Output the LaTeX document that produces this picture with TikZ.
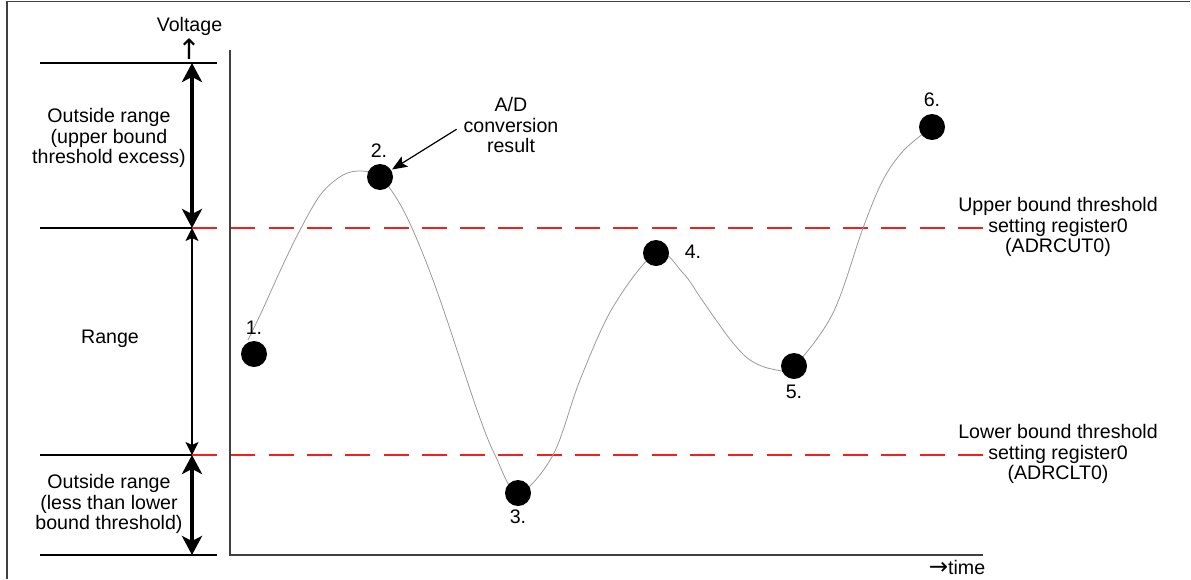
\documentclass[tikz,border=0pt]{standalone}
\usepackage{fontspec}
\setmainfont{Liberation Sans}
\newfontfamily\arrfont{DejaVu Sans}
\usetikzlibrary{arrows.meta}
\definecolor{thr}{HTML}{F02020}
\definecolor{curvegray}{HTML}{9A9A9A}
\definecolor{frame}{HTML}{404040}
\tikzset{
  txt/.style={font=\fontsize{19.6}{20.3}\selectfont, inner sep=0pt, align=center},
  dot/.style={circle, fill=black, minimum size=26pt, inner sep=0pt},
  guide/.style={line width=1.3pt, black},
  axisline/.style={line width=1.5pt, frame},
  thickarrow/.style={line width=4pt, {Stealth[length=19pt,width=20pt,inset=5pt]}-{Stealth[length=19pt,width=20pt,inset=5pt]}},
  thinarrow/.style={line width=1.2pt, {Stealth[length=13pt,width=13pt,inset=3pt]}-{Stealth[length=13pt,width=13pt,inset=3pt]}},
  ptr/.style={line width=1.2pt, -{Stealth[length=15pt,width=12pt,inset=3pt]}},
  thrline/.style={line width=1.4pt, thr, dash pattern=on 25pt off 13.3pt},
  curveline/.style={line width=0.8pt, curvegray},
  borderline/.style={line width=1.5pt, frame}
}
\begin{document}
\begin{tikzpicture}[x=1pt,y=-1pt]
\useasboundingbox (0,0) rectangle (1191,579);
% frame
\coordinate (fb) at (7,579);
\coordinate (ftl) at (7,1.5);
\coordinate (ftr) at (1190,1.5);
\draw[borderline] (fb) -- (ftl) -- (ftr);

% left guide lines
\coordinate (g1l) at (40,63);  \coordinate (g1r) at (217,63);
\coordinate (g2l) at (40,228); \coordinate (g2r) at (217,228);
\coordinate (g3l) at (40,455); \coordinate (g3r) at (217,455);
\coordinate (g4l) at (40,555); \coordinate (g4r) at (217,555);
\draw[guide] (g1l) -- (g1r);
\draw[guide] (g2l) -- (g2r);
\draw[guide] (g3l) -- (g3r);
\draw[guide] (g4l) -- (g4r);

% arrows on the left
\coordinate (a1) at (192,63);
\coordinate (a2) at (192,228);
\coordinate (a3) at (192,455);
\coordinate (a4) at (192,555);
\draw[thickarrow] (a1) -- (a2);
\draw[thinarrow] (a2) -- (a3);
\draw[thickarrow] (a3) -- (a4);

% threshold lines
\coordinate (ue) at (983,228);
\coordinate (le) at (983,455);
\draw[thrline] (a2) -- (ue);
\draw[thrline] (a3) -- (le);

% axes
\coordinate (yt) at (230,50);
\coordinate (org) at (230,555);
\coordinate (xe) at (983,555);
\draw[axisline] (yt) -- (org) -- (xe);

% axis texts
\node[txt] (volt) at (189.5,26) {Voltage};
\node[txt, font=\arrfont\fontsize{28}{28}\selectfont] (uparr) at (189,49) {↑};
\node[txt] (time) at (957,567) {{\arrfont\fontsize{23}{23}\selectfont →}time};

% left texts
\node[txt] (outup) at (109,138) {Outside range\\(upper bound\\threshold excess)};
\node[txt] (range) at (110,339) {Range};
\node[txt] (outlow) at (109,504) {Outside range\\(less than lower\\bound threshold)};

% right texts
\node[txt] (ucut) at (1058,227) {Upper bound threshold\\setting register0\\(ADRCUT0)};
\node[txt] (lclt) at (1058,454) {Lower bound threshold\\setting register0\\(ADRCLT0)};

% curve (drawn first, dots on top)
\coordinate (c2) at (380,177);
\coordinate (c3) at (518,493);
\coordinate (c4) at (656,253);
\coordinate (c5) at (794,366);
\coordinate (c6) at (932,127);
\draw[curveline] plot[smooth, tension=0.55] coordinates {
  (248,340) (262,311) (281,269) (300,230) (321,194) (343,175) (362,171)
  (c2) (397,199) (412,228) (430,272) (447,320) (477,410) (495,455)
  (c3) (553,455) (580,380) (613,307) (c4)
  (683,273) (700,297) (716,320) (733,343) (750,360) (772,369) (c5)
  (833,313) (863,228) (883,180) (904,150) (c6)};

% dots
\node[dot] (p1) at (254,354) {};
\node[dot] (p2) at (c2) {};
\node[dot] (p3) at (c3) {};
\node[dot] (p4) at (c4) {};
\node[dot] (p5) at (c5) {};
\node[dot] (p6) at (c6) {};

% point labels
\node[txt] (l1) at (254,328) {1.};
\node[txt] (l2) at (379,151) {2.};
\node[txt] (l3) at (518,517) {3.};
\node[txt] (l4) at (693,252) {4.};
\node[txt] (l5) at (794,392) {5.};
\node[txt] (l6) at (932,100) {6.};

% A/D conversion result
\node[txt] (ad) at (511,125) {A/D\\conversion\\result};
\draw[ptr, shorten <=8pt, shorten >=1pt] (ad.west) -- (p2);
\end{tikzpicture}
\end{document}
